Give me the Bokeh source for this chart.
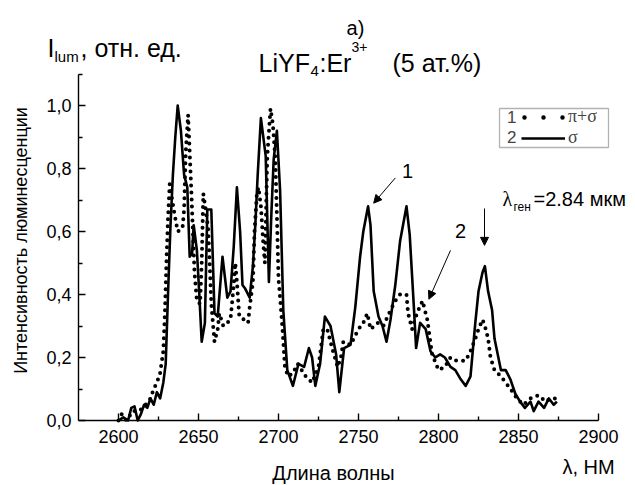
import math
from bokeh.plotting import figure
from bokeh.models import (FixedTicker, CustomJSTickFormatter, Label, Arrow, NormalHead,
                          Legend, LegendItem, BoxAnnotation, Range1d)
from bokeh.embed import file_html
from bokeh.resources import INLINE

# ---- data ----
sigma_wl = [2600, 2603, 2606, 2608, 2610, 2612, 2614, 2616, 2618, 2620, 2622, 2624, 2626, 2628,
            2629.5, 2631, 2632.5, 2634, 2635.5, 2637, 2639, 2641, 2643, 2644.5, 2646, 2647, 2649,
            2650.5, 2652, 2654, 2655.5, 2658, 2660, 2662, 2665, 2668, 2670, 2672, 2674, 2676,
            2677.5, 2679, 2682, 2684, 2685.5, 2687, 2689, 2692, 2694, 2695.5, 2697, 2699, 2701,
            2703, 2705.5, 2709, 2712.5, 2716, 2719, 2721, 2723, 2726, 2729, 2732.5, 2736, 2738,
            2741, 2745, 2748, 2751, 2753, 2756, 2757.5, 2759.5, 2762.5, 2765, 2767.5, 2770, 2773,
            2776, 2780, 2782, 2784.5, 2786, 2788.5, 2792, 2795, 2798, 2801, 2804, 2807.5, 2810.5,
            2814, 2817, 2820, 2823, 2825, 2827.5, 2829, 2831, 2833.5, 2835, 2839, 2842, 2845, 2848,
            2851, 2854, 2857.5, 2859.5, 2862.5, 2866, 2869, 2872, 2874]
sigma_i = [0.0, 0.01, 0.0, 0.04, 0.045, 0.0, 0.02, 0.05, 0.04, 0.07, 0.05, 0.09, 0.07, 0.12,
           0.18, 0.41, 0.62, 0.78, 0.9, 1.0, 0.92, 0.78, 0.74, 0.52, 0.53, 0.62, 0.54,
           0.4, 0.25, 0.31, 0.67, 0.67, 0.34, 0.33, 0.52, 0.39, 0.41, 0.55, 0.74, 0.6,
           0.43, 0.42, 0.39, 0.49, 0.62, 0.78, 0.96, 0.84, 0.44, 0.65, 0.83, 0.92, 0.73,
           0.35, 0.16, 0.11, 0.18, 0.17, 0.23, 0.2, 0.11, 0.18, 0.33, 0.3, 0.21, 0.09,
           0.23, 0.24, 0.36, 0.52, 0.6, 0.68, 0.62, 0.41, 0.33, 0.3, 0.25, 0.32, 0.43,
           0.57, 0.68, 0.59, 0.37, 0.23, 0.31, 0.29, 0.22, 0.2, 0.21, 0.2, 0.17, 0.16,
           0.13, 0.11, 0.14, 0.31, 0.41, 0.47, 0.49, 0.41, 0.35, 0.26, 0.16, 0.16, 0.13, 0.085,
           0.06, 0.04, 0.06, 0.03, 0.06, 0.04, 0.07, 0.05, 0.06]

pisig_wl = [2600, 2602, 2605, 2609, 2613, 2617, 2620, 2622, 2624, 2626, 2628, 2629, 2630, 2631,
            2632, 2634.5, 2637, 2640, 2641, 2642, 2643.5, 2644.5, 2645.5, 2646.5, 2647.5, 2649,
            2651, 2652, 2653, 2654.5, 2656, 2657, 2658, 2660, 2662, 2663, 2665.5, 2668, 2670,
            2672, 2673, 2674, 2675.5, 2678.5, 2681, 2682, 2684, 2685, 2686.5, 2687.5, 2689,
            2690.5, 2691.5, 2693, 2695, 2696.5, 2698, 2699, 2700, 2701, 2702.5, 2704, 2706,
            2709, 2712, 2717, 2721, 2725, 2728, 2730.5, 2733.5, 2737, 2739, 2740.5, 2745, 2750,
            2753, 2755.5, 2757.5, 2762, 2765.5, 2770, 2773, 2776, 2780, 2781, 2783.5, 2786.5,
            2790, 2793, 2796, 2800, 2804, 2807.5, 2811, 2814, 2817, 2820, 2823, 2825, 2827.5,
            2829, 2831, 2832.5, 2835, 2839, 2842, 2845, 2849, 2853, 2857.5, 2862.5, 2867, 2870,
            2873.5]
pisig_i = [0.0, 0.02, 0.0, 0.03, 0.03, 0.05, 0.07, 0.1, 0.12, 0.15, 0.22, 0.34, 0.51, 0.65,
           0.75, 0.67, 0.6, 0.61, 0.67, 0.85, 0.97, 0.85, 0.73, 0.6, 0.47, 0.38,
           0.37, 0.5, 0.72, 0.67, 0.61, 0.5, 0.37, 0.25, 0.29, 0.34, 0.3, 0.31, 0.32,
           0.43, 0.5, 0.44, 0.33, 0.32, 0.31, 0.36, 0.44, 0.6, 0.72, 0.74, 0.68,
           0.56, 0.5, 0.84, 0.99, 0.94, 0.83, 0.65, 0.45, 0.39, 0.29, 0.17, 0.14,
           0.15, 0.18, 0.14, 0.12, 0.17, 0.29, 0.29, 0.23, 0.17, 0.2, 0.25, 0.24, 0.29,
           0.31, 0.34, 0.29, 0.31, 0.3, 0.35, 0.38, 0.4, 0.4, 0.34, 0.29, 0.34,
           0.38, 0.32, 0.21, 0.16, 0.17, 0.2, 0.19, 0.19, 0.19, 0.22, 0.26, 0.29, 0.32,
           0.3, 0.26, 0.2, 0.16, 0.14, 0.12, 0.1, 0.07, 0.05, 0.07, 0.08, 0.06, 0.07,
           0.07]

x_ticks = [2600, 2650, 2700, 2750, 2800, 2850, 2900]
x_minor = [2625, 2675, 2725, 2775, 2825, 2875]
y_ticks = [0.0, 0.2, 0.4, 0.6, 0.8, 1.0]
y_minor = [0.1, 0.3, 0.5, 0.7, 0.9, 1.1]
x_bounds = (2575, 2900)
y_bounds = (0.0, 1.1)

FONT = "Liberation Sans"
W, H = 635, 485
# plot box in page pixels: x 78..598, y 73.5..420
PX_L, PX_R, PX_B = 78, 598, 420
KX = (PX_R - PX_L) / (x_bounds[1] - x_bounds[0])
KY = 315.0

p = figure(width=W, height=H, output_backend="svg", toolbar_location=None,
           x_range=Range1d(x_bounds[0] - PX_L / KX, x_bounds[0] + (W - PX_L) / KX),
           y_range=Range1d(-(H - PX_B) / KY, PX_B / KY),
           min_border=0, min_border_left=0, min_border_right=0,
           min_border_top=0, min_border_bottom=0)
p.outline_line_color = None
p.grid.visible = False
p.background_fill_color = "white"
p.border_fill_color = "white"

p.xaxis.fixed_location = y_bounds[0]
p.yaxis.fixed_location = x_bounds[0]
p.xaxis.bounds = x_bounds
p.yaxis.bounds = y_bounds

for ax in (p.xaxis[0], p.yaxis[0]):
    ax.axis_line_width = 1.4
    ax.axis_line_color = "black"
    ax.major_tick_in = 7
    ax.major_tick_out = 0
    ax.minor_tick_in = 4
    ax.minor_tick_out = 0
    ax.major_tick_line_width = 1.4
    ax.minor_tick_line_width = 1.4
    ax.major_tick_line_color = "black"
    ax.minor_tick_line_color = "black"
    ax.major_label_text_font = FONT
    ax.major_label_text_font_size = "18px"
    ax.major_label_text_color = "black"

p.xaxis.ticker = FixedTicker(ticks=x_ticks, minor_ticks=x_minor)
p.yaxis.ticker = FixedTicker(ticks=y_ticks, minor_ticks=y_minor)
p.yaxis.formatter = CustomJSTickFormatter(code="return tick.toFixed(1).replace('.', ',');")
p.xaxis.major_label_standoff = 9
p.yaxis.major_label_standoff = 7

dotted = p.line(pisig_wl, pisig_i, line_color="black", line_width=4, line_dash="0 7",
                line_cap="round")
solid = p.line(sigma_wl, sigma_i, line_color="black", line_width=2.6, line_join="round")
ghost = p.line([], [], line_alpha=0)
# single-point line: draws nothing in the plot, only provides the sparse-dot legend sample
dots_sample = p.line(pisig_wl[:1], pisig_i[:1], line_color="black", line_width=4.5,
                     line_dash="0 19", line_dash_offset=-3, line_cap="round")

# legend: numbers, sample glyphs, labels, frame
common = dict(padding=0, margin=0, spacing=0, glyph_height=16, label_height=16,
              label_text_line_height=1.0, border_line_color=None, background_fill_alpha=0)
leg_bottom = H - 148
p.add_layout(Legend(items=[LegendItem(label="1", renderers=[ghost]),
                           LegendItem(label="2", renderers=[ghost])],
                    location=(506, leg_bottom), glyph_width=1, label_standoff=0,
                    label_text_font=FONT, label_text_font_size="17px", **common))
p.add_layout(Legend(items=[LegendItem(label="π+σ", renderers=[dots_sample]),
                           LegendItem(label="σ", renderers=[solid])],
                    location=(521, leg_bottom), glyph_width=44, label_standoff=3,
                    label_text_font="Liberation Serif", label_text_font_size="18px",
                    **common))
p.add_layout(BoxAnnotation(left=499, right=608, top=H - 108, bottom=H - 147,
                           left_units="screen", right_units="screen",
                           top_units="screen", bottom_units="screen",
                           fill_alpha=0, line_color="black", line_width=1.3))


def lab(text, x, y, size, font=FONT, align="left", baseline="alphabetic", angle=0):
    p.add_layout(Label(x=x, y=H - y, x_units="screen", y_units="screen", text=text,
                       text_font=font, text_font_size=f"{size}px", text_align=align,
                       text_baseline=baseline, angle=angle, text_color="black"))


# titles
lab("a)", 355, 27, 20, align="center")
lab("LiYF", 258, 62, 25)
lab("4", 310, 70, 15)
lab(":Er", 319, 62, 25)
lab("3+", 351, 46, 14)
lab("(5 ат.%)", 392, 62, 25)
lab("I", 47, 47, 25)
lab("lum", 54, 56, 15)
lab(", отн. ед.", 80, 47, 25)

# axis titles
lab("Длина волны", 333, 472, 20, align="center")
lab("λ, НМ", 562, 466, 20)
lab("Интенсивность люминесценции", 20, 240, 18, align="center", baseline="middle",
    angle=math.pi / 2)

# peak annotations
lab("1", 407, 170, 20, align="center")
lab("2", 460, 230, 20, align="center")
lab("λ", 502, 198, 20, font="Liberation Serif")
lab("ген", 513, 206, 12)
lab("=2.84 мкм", 533, 198, 20)

arrows = [((2773, 0.77), (2759.5, 0.69)),
          ((2807.5, 0.54), (2794, 0.385)),
          ((2828.75, 0.673), (2828.75, 0.556))]
for (xs, ys), (xe, ye) in arrows:
    p.add_layout(Arrow(x_start=xs, y_start=ys, x_end=xe, y_end=ye, line_width=1,
                       line_color="black",
                       end=NormalHead(size=8, fill_color="black", line_color="black",
                                      line_width=1)))

open("out.html", "w").write(file_html(p, INLINE))
